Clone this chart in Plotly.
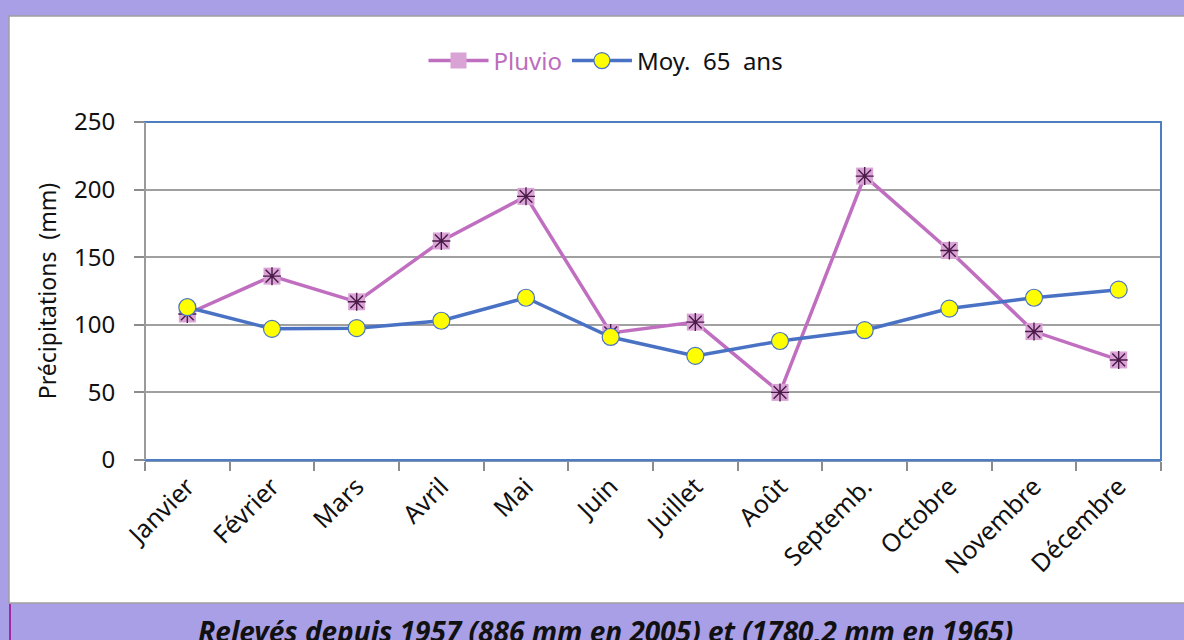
import plotly.graph_objects as go

months = ["Janvier", "Février", "Mars", "Avril", "Mai", "Juin", "Juillet",
          "Août", "Septemb.", "Octobre", "Novembre", "Décembre"]
pluvio = [108, 136, 117, 162, 195, 94, 102, 50, 210, 155, 95, 74]
moy65 = [113, 97, 97.5, 103, 120, 91, 77, 88, 96, 112, 120, 126]

FONT = "Noto Sans"
L, R, T, B = 145, 1161, 122, 460
W, H = 1184, 640
pw, ph = R - L, B - T


def px(x):
    return (x - L) / pw


def py(y):
    return (B - y) / ph


fig = go.Figure()
fig.add_trace(go.Scatter(
    x=months, y=pluvio, mode="lines+markers",
    name='<span style="color:#BC6CBC">Pluvio</span>',
    line=dict(color="#C06FC0", width=3.5),
    marker=dict(symbol="square", size=17, color="#D9A3D6", line=dict(width=0)),
))
fig.add_trace(go.Scatter(
    x=months, y=pluvio, mode="markers", showlegend=False, hoverinfo="skip",
    marker=dict(symbol="asterisk-open", size=15, color="#4A1A48",
                line=dict(width=1.4, color="#4A1A48")),
))
fig.add_trace(go.Scatter(
    x=months, y=moy65, mode="lines+markers",
    name="Moy.  65  ans",
    line=dict(color="#4A72C4", width=3.5),
    marker=dict(symbol="circle", size=17, color="#FFFF00",
                line=dict(width=1.2, color="#4A72C4")),
))

shapes = [
    # white panel
    dict(type="rect", xref="paper", yref="paper", layer="below",
         x0=px(9), x1=px(1190), y0=py(603), y1=py(16),
         fillcolor="white", line=dict(color="#A0A0A0", width=1.5)),
    # magenta left edge of caption strip
    dict(type="line", xref="paper", yref="paper",
         x0=px(10), x1=px(10), y0=py(604), y1=py(645),
         line=dict(color="#A02AA0", width=2)),
    # plot border
    dict(type="rect", xref="paper", yref="paper", layer="above",
         x0=0, x1=1, y0=0, y1=1, line=dict(color="#4F7EC0", width=2)),
    dict(type="line", xref="paper", yref="paper", layer="above",
         x0=0, x1=0, y0=0, y1=1, line=dict(color="#9A9A9A", width=2)),
]

fig.update_layout(
    width=W, height=H,
    margin=dict(l=L, r=W - R, t=T, b=H - B),
    paper_bgcolor="#A99FE6",
    plot_bgcolor="#E3DFF5",
    font=dict(family=FONT, size=22, color="#111111"),
    showlegend=True,
    legend=dict(orientation="h", x=px(606), xanchor="center",
                y=py(61), yanchor="middle", bgcolor="rgba(0,0,0,0)",
                font=dict(size=24), itemwidth=60, tracegroupgap=0),
    shapes=shapes,
    annotations=[dict(
        text="<b><i>Relevés depuis 1957 (886 mm en 2005) et (1780,2 mm en 1965)</i></b>",
        xref="paper", yref="paper", x=px(605), y=py(610),
        xanchor="center", yanchor="top", showarrow=False,
        font=dict(family=FONT, size=28, color="#111111"),
    )],
)

fig.update_xaxes(
    type="category", tickangle=-45, tickson="boundaries",
    ticks="outside", ticklen=9, tickcolor="#8C8C8C", tickwidth=1.5,
    showline=True, linecolor="#7F95B8", linewidth=2,
    showgrid=False, tickfont=dict(size=25, family=FONT),
    range=[-0.5, 11.5],
)
fig.update_yaxes(
    range=[0, 250], dtick=50, ticks="outside", ticklen=10,
    tickcolor="#8C8C8C", tickwidth=1.5,
    showgrid=True, gridcolor="#A0A0A0", gridwidth=1.5,
    zeroline=False, showline=False, ticklabelstandoff=14,
    tickfont=dict(size=24, family=FONT),
    title=dict(text="Précipitations  (mm)", font=dict(size=23, family=FONT), standoff=10),
)

fig.write_html("out.html", config={"displayModeBar": False},
               post_script="document.body.style.margin='0';")
